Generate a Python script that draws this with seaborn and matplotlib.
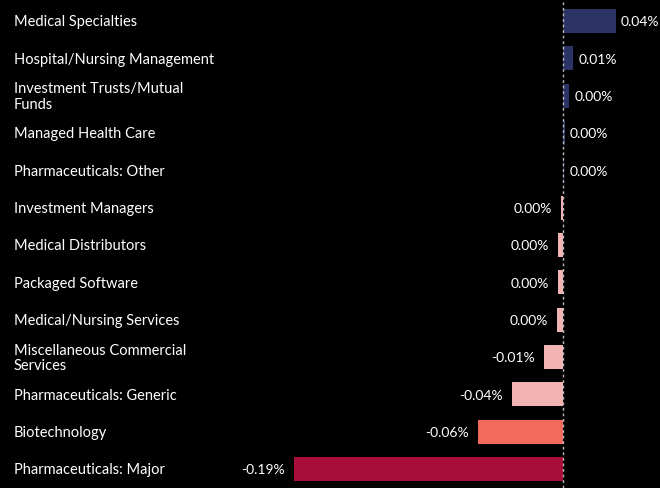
import matplotlib
matplotlib.use("Agg")
import matplotlib.pyplot as plt
import matplotlib.transforms as mtransforms
import seaborn as sns
import pandas as pd

# sector contribution data
sectors = [
    "Medical Specialties",
    "Hospital/Nursing Management",
    "Investment Trusts/Mutual\nFunds",
    "Managed Health Care",
    "Pharmaceuticals: Other",
    "Investment Managers",
    "Medical Distributors",
    "Packaged Software",
    "Medical/Nursing Services",
    "Miscellaneous Commercial\nServices",
    "Pharmaceuticals: Generic",
    "Biotechnology",
    "Pharmaceuticals: Major",
]
contrib = [0.0374, 0.0072, 0.0044, 0.0012, 0.0008, -0.0012, -0.0035, -0.0035,
           -0.0042, -0.0134, -0.036, -0.06, -0.19]
value_labels = ["0.04%", "0.01%", "0.00%", "0.00%", "0.00%", "0.00%", "0.00%",
                "0.00%", "0.00%", "-0.01%", "-0.04%", "-0.06%", "-0.19%"]
bar_colors = ["#2c3465", "#2c3465", "#2c3465", "#2c3465", "#2c3465",
              "#f2b4b2", "#f2b4b2", "#f2b4b2", "#f2b4b2", "#f2b4b2", "#f2b4b2",
              "#f26a5c", "#a80e39"]

df = pd.DataFrame({"sector": sectors, "value": contrib})

sns.set_style("dark")
plt.rcParams["font.family"] = ["Lato", "DejaVu Sans"]

fig = plt.figure(figsize=(6.6, 4.88), dpi=100, facecolor="black")
ax = fig.add_axes([0, 0, 1, 1])
ax.set_facecolor("black")

sns.barplot(data=df, x="value", y="sector", hue="sector", palette=bar_colors,
            orient="h", width=0.64, legend=False, ax=ax, saturation=1,
            edgecolor="none", linewidth=0)

ax.set_xlim(-0.3976, 0.0685)
ax.set_ylim(12.51, -0.5625)
ax.axvline(0, color="#bbbbbb", lw=1, ls=(0, (2, 2)))

for s in ax.spines.values():
    s.set_visible(False)
ax.set_xticks([])
ax.set_yticks([])
ax.set_xlabel("")
ax.set_ylabel("")
ax.grid(False)

dy = 0.04  # nudge text a bit lower
trans = mtransforms.blended_transform_factory(ax.transAxes, ax.transData)
for i, (name, v, lab) in enumerate(zip(sectors, contrib, value_labels)):
    ax.text(14 / 660, i + dy, name, transform=trans, ha="left", va="center",
            color="white", fontsize=10.5, linespacing=1.12)
    if v >= 0:
        ax.annotate(lab, (v, i + dy), xytext=(5, 0), textcoords="offset pixels",
                    ha="left", va="center", color="white", fontsize=10)
    else:
        ax.annotate(lab, (v, i + dy), xytext=(-9, 0), textcoords="offset pixels",
                    ha="right", va="center", color="white", fontsize=10)

fig.savefig("out.png", dpi=100, facecolor="black")
